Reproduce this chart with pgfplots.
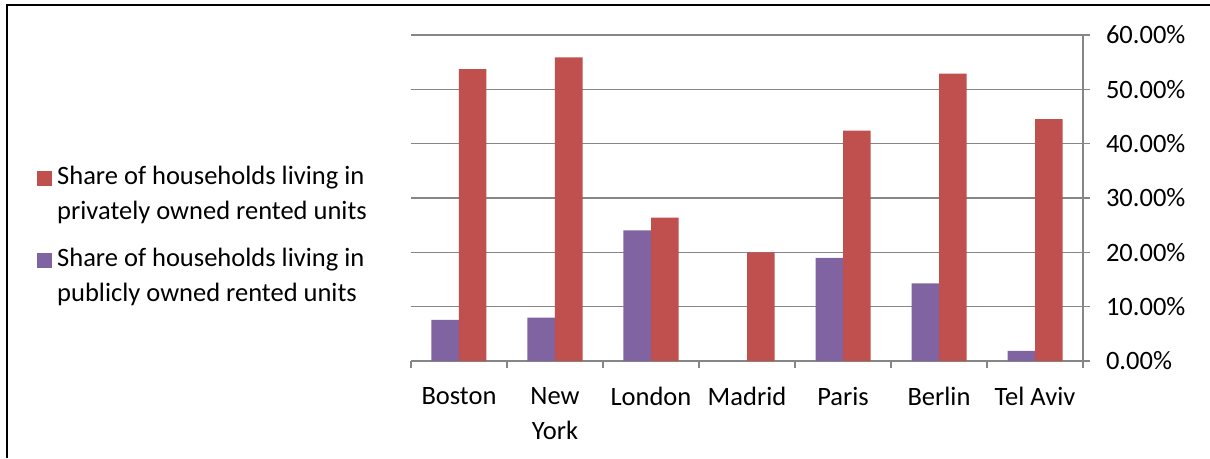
\documentclass[border=0pt]{standalone}
\usepackage{fontspec}
\setmainfont{Carlito}
\usepackage{pgfplots}
\pgfplotsset{compat=1.18}

\definecolor{barred}{HTML}{C0504D}
\definecolor{barpurple}{HTML}{8064A2}
\definecolor{gridgray}{HTML}{868686}

\begin{document}
\fontsize{26.5}{35}\selectfont
\begin{tikzpicture}
\useasboundingbox (0,0) rectangle (1210pt,458pt);
% frame (left and top edges only visible)
\draw[line width=2pt] (6.5pt,0) -- (6.5pt,453pt) -- (1210pt,453pt);
\begin{axis}[
  at={(411pt,97pt)}, anchor=south west,
  scale only axis, width=672pt, height=326pt,
  ybar=0pt, bar width=27.5pt,
  xmin=-0.5, xmax=6.5, ymin=0, ymax=60,
  axis x line*=bottom, axis y line*=right,
  axis line style={gridgray, line width=1.3pt},
  every tick/.style={gridgray, line width=1.3pt},
  tick align=outside, major tick length=7pt,
  xtick={-0.5,0.5,...,6.5}, xticklabels={},
  extra x ticks={0,1,2,3,4,5,6},
  extra x tick labels={Boston,New\\York,London,Madrid,Paris,Berlin,Tel Aviv},
  extra x tick style={major tick length=0pt, grid=none,
    xticklabel style={align=center, anchor=north, yshift=-17pt}},
  ytick={0,10,...,60},
  yticklabels={0.00\%,10.00\%,20.00\%,30.00\%,40.00\%,50.00\%,60.00\%},
  yticklabel style={anchor=west, xshift=7pt},
  ymajorgrids, grid style={gridgray, line width=1.3pt},
  reverse legend,
  legend style={draw=none, fill=none, inner sep=0pt,
    at={(-0.5565,0.605)}, anchor=north west,
    cells={align=left, anchor=west}, row sep=21pt, column sep=3pt},
  legend image code/.code={\fill[#1] (0pt,9pt) rectangle (15pt,24pt);},
]
\addplot[fill=barpurple, draw=none] coordinates {
  (0,7.55) (1,8.0) (2,24.05) (3,0) (4,19.0) (5,14.3) (6,1.85)};
\addlegendentry{Share of households living in\\publicly owned rented units}
\addplot[fill=barred, draw=none] coordinates {
  (0,53.7) (1,55.9) (2,26.4) (3,20.0) (4,42.4) (5,52.9) (6,44.5)};
\addlegendentry{Share of households living in\\privately owned rented units}
\end{axis}
\end{tikzpicture}
\end{document}
